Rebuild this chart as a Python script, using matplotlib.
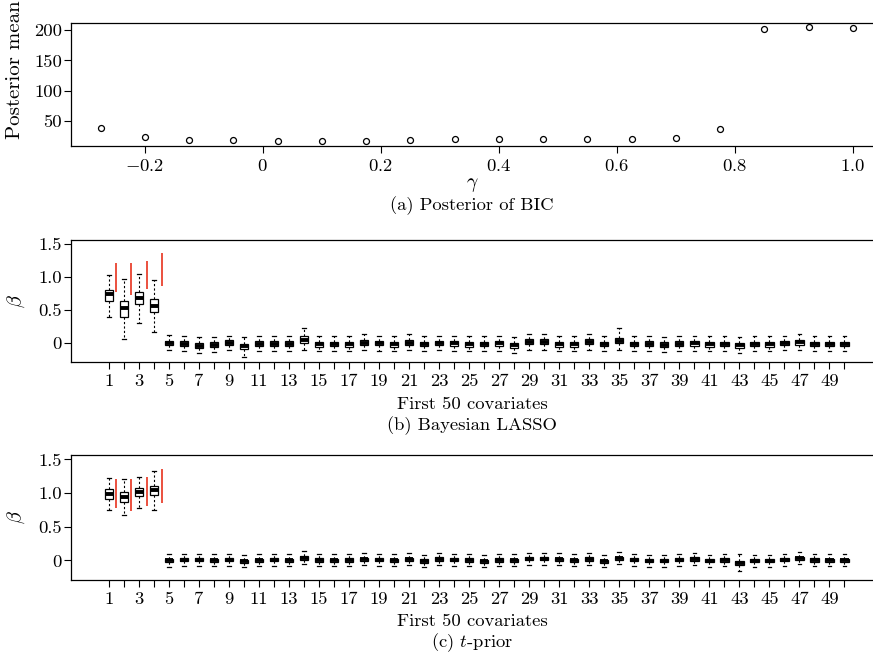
import matplotlib
matplotlib.use("Agg")
import matplotlib.pyplot as plt

plt.rcParams['font.family'] = 'cmr10'
plt.rcParams['mathtext.fontset'] = 'cm'
plt.rcParams['axes.unicode_minus'] = False
plt.rcParams['font.size'] = 13.4

# ---------------- data ----------------
gamma = [-0.275, -0.2, -0.125, -0.05, 0.025, 0.1, 0.175, 0.25, 0.325,
         0.4, 0.475, 0.55, 0.625, 0.7, 0.775, 0.85, 0.925, 1.0]
post_mean = [37.8, 22.8, 18.3, 17.2, 16.1, 16.1, 16.7, 17.8, 18.9,
             19.4, 19.4, 20.0, 20.0, 21.0, 37.0, 201.7, 205.0, 203.0]

covariates = list(range(1, 51))

# Bayesian LASSO box statistics
lasso_med = [0.74, 0.525, 0.69, 0.565, 0.0, -0.01, -0.04, -0.025, 0.005, -0.05,
             -0.01, -0.01, -0.01, 0.05, -0.02, -0.015, -0.02, 0.005, 0.0, -0.02,
             0.005, -0.015, 0.0, -0.005, -0.02, -0.015, -0.005, -0.035, 0.02, 0.02,
             -0.02, -0.02, 0.02, -0.015, 0.035, -0.015, -0.01, -0.025, -0.01, -0.005,
             -0.02, -0.015, -0.035, -0.015, -0.02, 0.0, 0.01, -0.015, -0.015, -0.015]
lasso_q1 = [0.635, 0.40, 0.585, 0.465, -0.035, -0.045, -0.08, -0.06, -0.03, -0.09,
            -0.045, -0.045, -0.045, -0.005, -0.055, -0.05, -0.055, -0.03, -0.035, -0.055,
            -0.03, -0.05, -0.035, -0.04, -0.055, -0.05, -0.04, -0.075, -0.015, -0.015,
            -0.055, -0.055, -0.015, -0.05, -0.005, -0.05, -0.045, -0.06, -0.045, -0.04,
            -0.055, -0.05, -0.07, -0.05, -0.055, -0.035, -0.025, -0.05, -0.05, -0.05]
lasso_q3 = [0.81, 0.635, 0.775, 0.665, 0.035, 0.025, 0.0, 0.01, 0.04, -0.01,
            0.03, 0.025, 0.025, 0.105, 0.015, 0.02, 0.015, 0.04, 0.035, 0.015,
            0.045, 0.02, 0.035, 0.03, 0.015, 0.02, 0.03, 0.005, 0.055, 0.055,
            0.015, 0.015, 0.055, 0.02, 0.075, 0.02, 0.025, 0.01, 0.025, 0.03,
            0.015, 0.02, 0.0, 0.02, 0.015, 0.035, 0.045, 0.02, 0.02, 0.02]
lasso_lo = [0.39, 0.065, 0.30, 0.17, -0.115, -0.12, -0.16, -0.14, -0.11, -0.21,
            -0.12, -0.12, -0.12, -0.115, -0.13, -0.13, -0.13, -0.11, -0.12, -0.13,
            -0.11, -0.12, -0.11, -0.12, -0.13, -0.13, -0.12, -0.15, -0.10, -0.10,
            -0.13, -0.13, -0.10, -0.12, -0.10, -0.13, -0.12, -0.14, -0.12, -0.12,
            -0.13, -0.13, -0.15, -0.13, -0.13, -0.11, -0.10, -0.12, -0.12, -0.12]
lasso_hi = [1.04, 0.965, 1.05, 0.95, 0.125, 0.11, 0.09, 0.09, 0.11, 0.09,
            0.11, 0.10, 0.10, 0.23, 0.10, 0.10, 0.10, 0.14, 0.10, 0.10,
            0.14, 0.10, 0.11, 0.10, 0.10, 0.10, 0.10, 0.09, 0.14, 0.14,
            0.10, 0.10, 0.14, 0.10, 0.22, 0.10, 0.10, 0.09, 0.10, 0.11,
            0.10, 0.10, 0.09, 0.11, 0.10, 0.10, 0.13, 0.10, 0.10, 0.10]

# t-prior box statistics
t_med = [0.98, 0.94, 1.015, 1.04, 0.0, 0.01, 0.01, 0.0, 0.01, -0.015,
         0.0, 0.01, 0.0, 0.035, 0.005, 0.0, 0.005, 0.015, 0.01, 0.0,
         0.015, -0.01, 0.02, 0.01, 0.005, -0.015, 0.005, 0.0, 0.025, 0.025,
         0.015, 0.0, 0.02, -0.015, 0.03, 0.01, -0.005, -0.005, 0.01, 0.02,
         -0.005, 0.005, -0.035, -0.005, -0.005, 0.01, 0.03, 0.005, 0.0, 0.0]
t_q1 = [0.91, 0.87, 0.95, 0.965, -0.025, -0.015, -0.015, -0.025, -0.015, -0.04,
        -0.025, -0.015, -0.025, 0.01, -0.02, -0.025, -0.02, -0.01, -0.015, -0.025,
        -0.01, -0.035, -0.005, -0.015, -0.02, -0.04, -0.02, -0.025, 0.0, 0.0,
        -0.01, -0.025, -0.005, -0.04, 0.005, -0.015, -0.03, -0.03, -0.015, -0.005,
        -0.03, -0.02, -0.065, -0.03, -0.03, -0.015, 0.005, -0.02, -0.025, -0.025]
t_q3 = [1.055, 1.015, 1.07, 1.11, 0.025, 0.035, 0.035, 0.025, 0.035, 0.01,
        0.025, 0.035, 0.025, 0.06, 0.03, 0.025, 0.03, 0.04, 0.035, 0.025,
        0.04, 0.015, 0.045, 0.035, 0.03, 0.01, 0.03, 0.025, 0.05, 0.05,
        0.04, 0.025, 0.045, 0.01, 0.055, 0.035, 0.02, 0.02, 0.035, 0.045,
        0.02, 0.03, -0.01, 0.02, 0.02, 0.035, 0.055, 0.03, 0.025, 0.025]
t_lo = [0.75, 0.67, 0.78, 0.75, -0.09, -0.075, -0.075, -0.085, -0.075, -0.10,
        -0.085, -0.075, -0.085, -0.05, -0.08, -0.085, -0.08, -0.07, -0.075, -0.085,
        -0.07, -0.095, -0.065, -0.075, -0.08, -0.10, -0.08, -0.085, -0.06, -0.06,
        -0.07, -0.085, -0.065, -0.10, -0.055, -0.075, -0.09, -0.09, -0.075, -0.065,
        -0.09, -0.08, -0.16, -0.09, -0.09, -0.075, -0.055, -0.08, -0.085, -0.085]
t_hi = [1.225, 1.205, 1.24, 1.33, 0.09, 0.10, 0.10, 0.09, 0.10, 0.075,
        0.09, 0.10, 0.09, 0.14, 0.095, 0.09, 0.095, 0.105, 0.10, 0.09,
        0.105, 0.08, 0.11, 0.10, 0.095, 0.075, 0.095, 0.09, 0.115, 0.115,
        0.105, 0.09, 0.11, 0.075, 0.12, 0.10, 0.085, 0.085, 0.10, 0.11,
        0.085, 0.095, 0.10, 0.085, 0.085, 0.10, 0.12, 0.095, 0.09, 0.09]

# red reference intervals
red_x = [1.5, 2.5, 3.5, 4.5]
red_lo = [0.775, 0.735, 0.815, 0.86]
red_hi = [1.215, 1.21, 1.24, 1.36]

top_xticks = [-0.2, 0, 0.2, 0.4, 0.6, 0.8, 1.0]
top_xticklabels = ['$-0.2$', '$0$', '$0.2$', '$0.4$', '$0.6$', '$0.8$', '$1.0$']
top_yticks = [50, 100, 150, 200]
box_yticks = [0, 0.5, 1.0, 1.5]
box_yticklabels = ['0', '0.5', '1.0', '1.5']

# ---------------- figure ----------------
W, H = 873, 655
fig = plt.figure(figsize=(W / 100, H / 100), dpi=100)

def style(ax):
    for s in ['left', 'bottom', 'top']:
        ax.spines[s].set_linewidth(0.9)
    ax.spines['right'].set_visible(False)
    ax.tick_params(direction='out', length=5, width=0.8, labelsize=13.4)
    ax.tick_params(axis='x', pad=3.5)
    ax.tick_params(axis='y', pad=1.5)

left = 71 / W
width = 1 - left

# (a)
ax1 = fig.add_axes([left, 1 - 146 / H, width, 123 / H])
style(ax1)
ax1.plot(gamma, post_mean, linestyle='none', marker='o', markersize=4.3,
         markerfacecolor='none', markeredgecolor='black', markeredgewidth=0.9)
ax1.set_xlim(-0.325, 1.034)
ax1.set_ylim(8, 212)
ax1.set_xticks(top_xticks)
ax1.set_xticklabels(top_xticklabels)
ax1.set_yticks(top_yticks)
fig.text(15 / W, 1 - 70 / H, 'Posterior mean', rotation=90, ha='center', va='center',
         fontsize=15)
fig.text(472 / W, 1 - 185 / H, r'$\gamma$', ha='center', va='center', fontsize=14)
fig.text(472 / W, 1 - 206 / H, '(a) Posterior of BIC', ha='center', va='center')


def box_panel(bottom_px, height_px, med, q1, q3, lo, hi, xlabel_y, cap_y, caption):
    ax = fig.add_axes([left, 1 - bottom_px / H, width, height_px / H])
    style(ax)
    stats = []
    for i in range(len(covariates)):
        stats.append(dict(med=med[i], q1=q1[i], q3=q3[i], whislo=lo[i], whishi=hi[i],
                          fliers=[]))
    ax.bxp(stats, positions=covariates, widths=0.55, capwidths=0.25,
           showfliers=False, patch_artist=True,
           boxprops=dict(facecolor='white', edgecolor='black', linewidth=0.9),
           medianprops=dict(color='black', linewidth=2.8, solid_capstyle='butt'),
           whiskerprops=dict(color='black', linestyle=(0, (2, 2)), linewidth=0.8),
           capprops=dict(color='black', linewidth=0.9))
    ax.vlines(red_x, red_lo, red_hi, color='#e8321e', linewidth=1.2)
    ax.set_xlim(-1.53, 51.9)
    ax.set_ylim(-0.29, 1.565)
    ax.set_xticks(covariates)
    ax.set_xticklabels([str(k) if k % 2 == 1 else '' for k in covariates])
    ax.set_yticks(box_yticks)
    ax.set_yticklabels(box_yticklabels)
    ax.set_ylabel(r'$\beta$', fontsize=14.5, labelpad=8)
    fig.text(472 / W, 1 - xlabel_y / H, 'First 50 covariates', ha='center', va='center')
    fig.text(472 / W, 1 - cap_y / H, caption, ha='center', va='center')
    return ax

box_panel(362, 122, lasso_med, lasso_q1, lasso_q3, lasso_lo, lasso_hi,
          404, 426, '(b) Bayesian LASSO')
box_panel(580, 125, t_med, t_q1, t_q3, t_lo, t_hi,
          621, 643, r'(c) $t$-prior')

fig.savefig('out.png', dpi=100)
